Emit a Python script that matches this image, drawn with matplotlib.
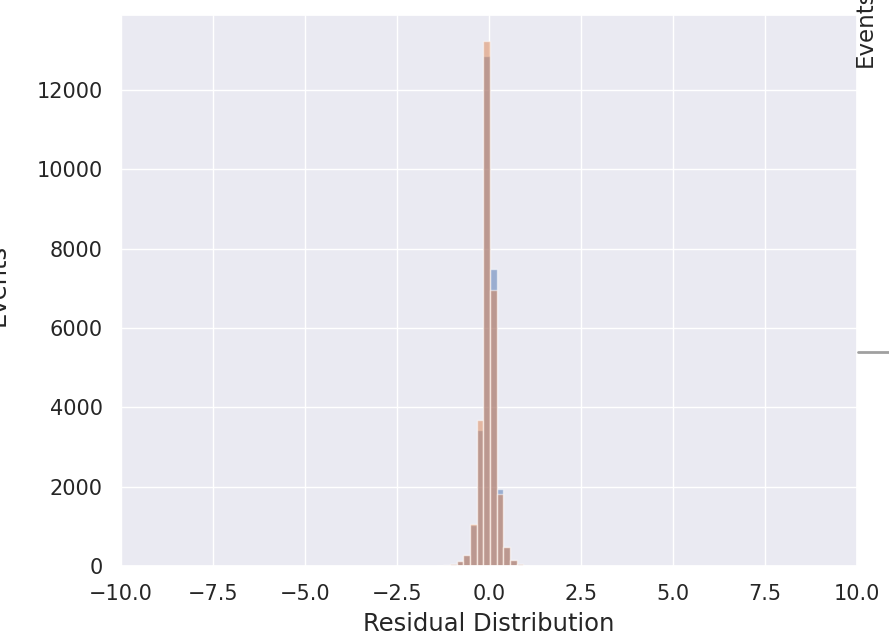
import matplotlib
matplotlib.use("Agg")
import matplotlib.pyplot as plt
import seaborn as sns
from matplotlib.lines import Line2D

sns.set_theme(style="darkgrid")
plt.rcParams['font.family'] = ['DejaVu Sans']

# Histogram data (bin edges and counts per series)
bin_edges = [-1.429, -1.247, -1.065, -0.883, -0.701, -0.519, -0.337, -0.155,
             0.027, 0.209, 0.391, 0.573, 0.755, 0.937, 1.119]
counts_blue = [10, 20, 55, 115, 270, 1040, 3440, 12850, 7490, 1930, 490, 150, 40, 10]
counts_orange = [10, 20, 60, 120, 280, 1070, 3680, 13230, 6960, 1810, 470, 150, 40, 10]
x_label = "Residual Distribution"
y_label = "Events"

centers = [(bin_edges[i] + bin_edges[i + 1]) / 2 for i in range(len(bin_edges) - 1)]

fig = plt.figure(figsize=(8.89, 6.38), dpi=100)
ax = fig.add_axes([121 / 889, 1 - 566 / 638, (857 - 121) / 889, (566 - 15) / 638])

ax.hist(centers, bins=bin_edges, weights=counts_blue, color=sns.color_palette()[0],
        alpha=0.5, edgecolor='white', linewidth=1)
ax.hist(centers, bins=bin_edges, weights=counts_orange, color=sns.color_palette()[1],
        alpha=0.5, edgecolor='white', linewidth=1)

ax.set_xlim(-10, 10)
ax.set_xticks([-10, -7.5, -5, -2.5, 0, 2.5, 5, 7.5, 10])
ax.set_yticks([0, 2000, 4000, 6000, 8000, 10000, 12000])
ax.tick_params(labelsize=15, pad=7)
ax.set_xlabel(x_label, fontsize=17.5, labelpad=6)
ax.set_ylabel(y_label, fontsize=17.5)
ax.yaxis.set_label_coords(-0.152, 0.51)

# Fragments of a neighbouring panel cropped at the right edge
fig.text(865 / 889, 1 - 67 / 638, y_label, rotation=90, ha='center', va='bottom',
         fontsize=16.5, color='.15')
fig.add_artist(Line2D([858 / 889, 1.0], [1 - 352 / 638, 1 - 352 / 638],
                      transform=fig.transFigure, color='#a0a0a0', linewidth=2))

fig.savefig("out.png", dpi=100)
